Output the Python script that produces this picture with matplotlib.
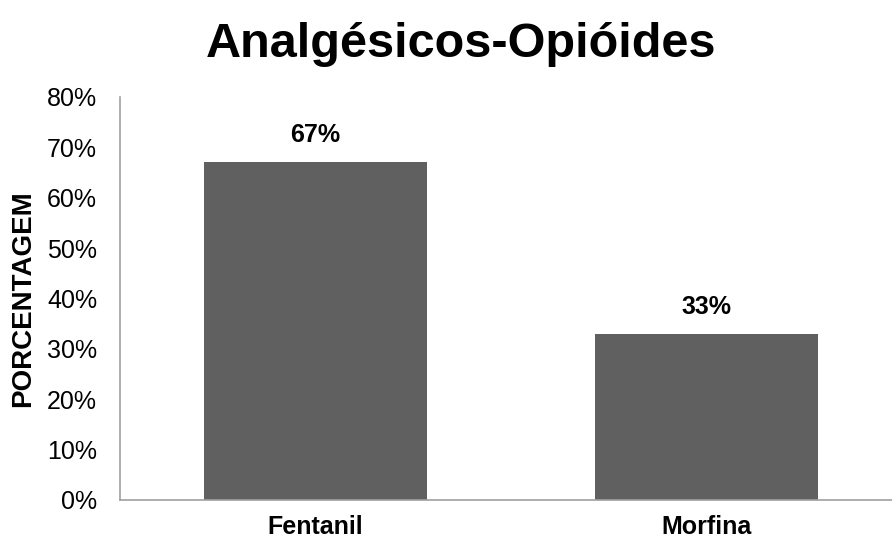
import matplotlib.pyplot as plt
from matplotlib.ticker import PercentFormatter

plt.rcParams["font.family"] = ["Liberation Sans", "DejaVu Sans"]

categories = ["Fentanil", "Morfina"]
values = [67, 33]
y_ticks = [0, 10, 20, 30, 40, 50, 60, 70, 80]

fig = plt.figure(figsize=(8.92, 5.43), dpi=100)
ax = fig.add_axes([0.1345, 0.0792, 0.8767, 0.7422])

bars = ax.bar(range(len(categories)), values, width=0.57, color="#606060")
for bar, v in zip(bars, values):
    ax.text(bar.get_x() + bar.get_width() / 2, v + 3.0, f"{v}%",
            ha="center", va="bottom", fontsize=18, fontweight="bold")

ax.set_xlim(-0.5, 1.5)
ax.set_ylim(0, 80)
ax.set_yticks(y_ticks)
ax.yaxis.set_major_formatter(PercentFormatter(decimals=0))
ax.set_xticks(range(len(categories)))
ax.set_xticklabels(categories, fontsize=18, fontweight="bold")
ax.tick_params(axis="both", length=0, labelsize=18)
ax.tick_params(axis="x", pad=11)
ax.tick_params(axis="y", pad=16.5)

for side in ["top", "right"]:
    ax.spines[side].set_visible(False)
for side in ["left", "bottom"]:
    ax.spines[side].set_color("#a0a0a0")
    ax.spines[side].set_linewidth(1.2)

ax.set_ylabel("PORCENTAGEM", fontsize=20, fontweight="bold", labelpad=8)
fig.text(0.517, 1 - 57 / 543, "Analgésicos-Opióides", fontsize=35,
         fontweight="bold", ha="center", va="baseline")

fig.savefig("out.png", dpi=100)
